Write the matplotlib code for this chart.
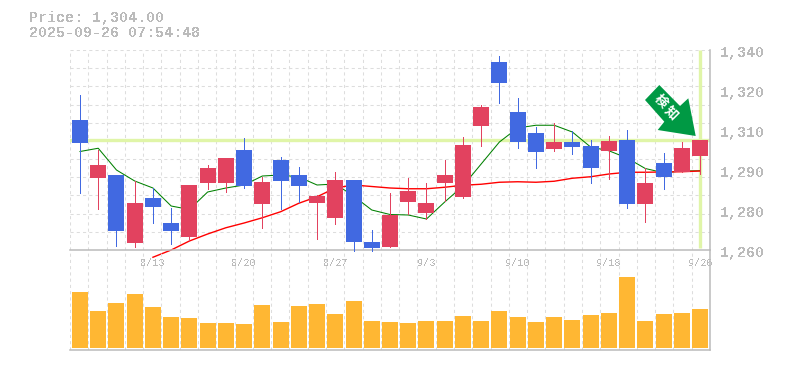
import numpy as np
import matplotlib
matplotlib.use("Agg")
import matplotlib.pyplot as plt
from matplotlib.patches import Polygon
from matplotlib.transforms import ScaledTranslation, Affine2D

# ---------- data ----------
body_top = [1312,1294,1290,1278.8,1280.8,1270.8,1286,1292.8,1296.8,1300,1287.2,1296,1290,1281.6,1288,1288,1263.2,1274,
            1283.6,1278.8,1290,1302,1317.2,1335.2,1315.2,1306.8,1303.2,1303.2,1301.6,1303.6,1304,1286.8,1294.8,1300.8,1304]
body_bot = [1303,1289,1267.6,1262.8,1277.2,1267.6,1265.2,1286.8,1286.8,1285.6,1278.4,1287.6,1285.6,1278.8,1272.8,1263.2,1260.8,1261.2,
            1279.2,1274.8,1286.8,1281.2,1309.6,1326.8,1303.2,1299.2,1300.4,1301.2,1292.8,1299.6,1278.4,1278.4,1289.2,1291.2,1297.6]
high = [1322,1300,1290,1287.6,1284.8,1276.8,1286,1294,1296.8,1304.8,1289.3,1297.2,1293.2,1282,1291.2,1288,1268,1282.8,
        1288.8,1286.8,1296,1305.2,1318,1337.6,1320.8,1309.2,1310.8,1307.6,1304,1305.6,1308,1292.8,1298.8,1303.2,1304]
low = [1283,1276.4,1261.6,1261.3,1270.8,1262.4,1263.6,1284.4,1283.2,1284.8,1268.8,1276.4,1279.2,1264.4,1270.4,1259.6,1259.6,1261.2,
       1274.4,1272.4,1279.6,1280.8,1301.6,1318.8,1300.8,1292.8,1299.6,1298.4,1286.8,1288.4,1276.8,1271.2,1284.4,1291.2,1290.4]
is_up = [0,1,0,1,0,0,1,1,1,0,1,0,0,1,1,0,0,1,1,1,1,1,1,0,0,0,1,0,0,1,0,1,0,1,1]
ma_short = [1299.4,1300.7,1292,1287.6,1284.8,1277.6,1276.2,1283.2,1284.8,1286,1289.6,1290,1289.2,1286,1286.4,1281.6,1276,1274.2,
            1274,1272.4,1279.2,1285.6,1294.4,1303.2,1308.8,1309.9,1309.9,1307.2,1301.2,1299.7,1296.8,1292.6,1290.9,1291.6,1291.7]
ma_long = [1257.1,1260,1263.6,1266.4,1268.9,1270.8,1272.9,1275.3,1278.7,1281.3,1284.8,1286,1285.4,1284.8,1284.5,1284.5,1285.1,
           1285.9,1286.3,1287.1,1287.3,1287.1,1287.5,1288.7,1289.3,1290.4,1291.1,1291.1,1291.2,1291.3,1291.6]
ma_long_start = 4
volume = [56,37,45,54,41,31,30,25,25,24,43,26,42,44,34,47,27,26,25,27,27,32,27,37,31,26,31,28,33,35,71,27,34,35,39]
last_price = 1304
date_idx = [4,9,14,19,24,29,34]
date_labels = ["8/13","8/20","8/27","9/3","9/10","9/18","9/26"]
price_ticks = [1340,1324,1308,1292,1276,1260]
price_labels = ["1,340","1,320","1,310","1,290","1,280","1,260"]
title_lines = ["Price: 1,304.00", "2025-09-26 07:54:48"]
signal_chars = ["検", "知"]

# ---------- style ----------
W, H = 785, 370
C_UP, C_DOWN = "#E2425F", "#4169E1"
C_VOL = "#FFB733"
C_GRID, C_AXIS, C_TEXT = "#DDDDDD", "#BBBBBB", "#BBBBBB"
C_HI = "#E0F5A8"
MONO = "Liberation Mono"

fig = plt.figure(figsize=(W/100, H/100), dpi=100, facecolor="white")
def px_axes(x0, ytop, x1, ybot):
    return fig.add_axes([x0/W, 1-ybot/H, (x1-x0)/W, (ybot-ytop)/H])
ax = px_axes(70, 50, 710, 250)
axv = px_axes(70, 250, 710, 350)

n = len(volume)
xs = np.arange(n)
xlim = (-0.548, n-1+0.548)
grid_x = np.linspace(xlim[0], xlim[1], 36)
grid_y = np.linspace(1260, 1340, 12)

for a in (ax, axv):
    a.set_xlim(*xlim)
    a.patch.set_alpha(0)
    a.set_xticks(grid_x, minor=True)
    a.grid(True, which="minor", axis="x", color=C_GRID, lw=0.75, ls=(0, (3, 3)), zorder=0)
    a.set_axisbelow(True)
    a.tick_params(which="both", length=0)
    for s in ("top", "left"):
        a.spines[s].set_visible(False)
    a.spines["right"].set_color(C_AXIS)
    a.spines["bottom"].set_color(C_AXIS)
    a.spines["right"].set_linewidth(1.1)
    a.spines["bottom"].set_linewidth(1.1)

ax.set_ylim(1260, 1340)
for g in grid_y[1:]:
    ax.axhline(g, color=C_GRID, lw=0.75, ls=(0, (3, 3)), zorder=0.5)

# highlight of last price / last day
ax.axhline(last_price, color=C_HI, lw=2.4, zorder=1)
ax.plot([xs[-1], xs[-1]], [1261, 1340], color=C_HI, lw=2.4, zorder=1, solid_capstyle="butt")

# moving averages
ax.plot(xs, ma_short, color="#008000", lw=0.75, zorder=2, clip_on=False, antialiased=True)
ax.plot(xs[ma_long_start:], ma_long, color="#FF0000", lw=1.0, zorder=2, clip_on=False, antialiased=True)

# candles
colors = [C_UP if u else C_DOWN for u in is_up]
wicks = ax.vlines(xs, low, high, colors=colors, lw=0.72, zorder=3, clip_on=False)
wicks.set_snap(True)
wicks.set_antialiased(False)
ax.bar(xs, np.array(body_top)-np.array(body_bot), bottom=body_bot, width=0.877, color=colors, zorder=4, lw=0, clip_on=False)

ax.set_xticks(date_idx, date_labels)
ax.tick_params(axis="x", which="major", pad=6, labelsize=7.3, labelcolor=C_TEXT)
for t in ax.get_xticklabels():
    t.set_family(MONO)
    t.set_antialiased(False)
ax.yaxis.tick_right()
ax.set_yticks(price_ticks, price_labels)
ax.tick_params(axis="y", which="major", pad=7, labelsize=10.8, labelcolor=C_TEXT)
off = ScaledTranslation(0, -2/72*0.72, fig.dpi_scale_trans)
for t in ax.get_yticklabels():
    t.set_family(MONO)
    t.set_fontweight("bold")
    t.set_antialiased(False)
    t.set_transform(t.get_transform() + off)

# volume
axv.set_ylim(-2, 98)
axv.set_yticks([])
axv.set_xticks([])
axv.bar(xs, volume, width=0.877, color=C_VOL, lw=0, zorder=3)

# title
for line, y in zip(title_lines, (18, 33)):
    fig.text(29/W, 1-y/H, line, family=MONO, fontsize=10.8, fontweight="bold", color=C_TEXT,
             va="center", ha="left", antialiased=False)

# signal arrow (pixel coordinates of the figure)
to_fig = Affine2D().scale(1/W, -1/H).translate(0, 1) + fig.transFigure
arrow = [(659.3,85),(645,100),(664.3,121.7),(657.7,130),(695.7,136),(688.3,98.3),(680,106)]
fig.add_artist(Polygon(arrow, closed=True, facecolor="#009944", edgecolor="none", transform=to_fig, zorder=6))
for ch, (cx, cy) in zip(signal_chars, [(660.5,101.5), (671.5,113)]):
    fig.text(cx/W, 1-cy/H, ch, family=["Noto Sans CJK JP", "DejaVu Sans"], fontsize=9.5, fontweight="bold",
             color="white", rotation=-45, ha="center", va="center", zorder=7, rotation_mode="anchor")

fig.savefig("out.png", dpi=100)
